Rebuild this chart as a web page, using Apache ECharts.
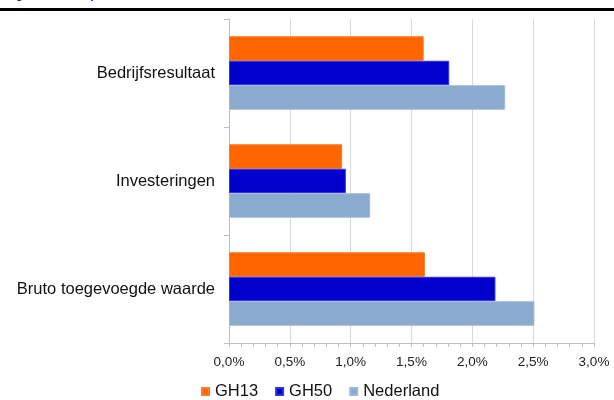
<!DOCTYPE html>
<html>
<head>
<meta charset="utf-8">
<script src="https://cdn.jsdelivr.net/npm/echarts@6/dist/echarts.min.js"></script>
<style>
  html, body { margin: 0; padding: 0; background: #fff; }
  #chart { width: 614px; height: 400px; }
</style>
</head>
<body>
<div id="chart"></div>
<script>
// Categories, bottom to top as drawn on the vertical axis
const categories = ['Bruto toegevoegde waarde', 'Investeringen', 'Bedrijfsresultaat'];
const seriesNames = ['GH13', 'GH50', 'Nederland'];
const gh13 = [1.61, 0.93, 1.60];
const gh50 = [2.19, 0.96, 1.81];
const nederland = [2.51, 1.16, 2.27];
const seriesColors = ['#ff6600', '#0000cc', '#8aabcf'];
const borderColors = ['#ff7a26', '#3333dd', '#9db9d8'];

const font = '"Liberation Sans", Arial, sans-serif';
const chart = echarts.init(document.getElementById('chart'), null, { renderer: 'canvas' });

const values = [gh13, gh50, nederland];

chart.setOption({
  animation: false,
  textStyle: { fontFamily: font },
  graphic: [
    { type: 'rect', shape: { x: 0, y: 8, width: 614, height: 3 }, style: { fill: '#000' } },
    { type: 'text', x: 5, y: -11,
      style: { text: 'Figuur 3 Groei per sector', font: 'bold 12px ' + font, fill: '#1a1aa6',
               verticalAlign: 'top' } }
  ],
  legend: {
    data: seriesNames,
    left: 201, top: 383, padding: 0,
    icon: 'rect', itemWidth: 7, itemHeight: 7, itemGap: 17,
    textStyle: { fontSize: 16.5, color: '#111', fontFamily: font, padding: [0, 0, 0, 1] }
  },
  grid: { left: 229, right: 20, top: 19, bottom: 57, containLabel: false },
  xAxis: {
    type: 'value', min: 0, max: 3, interval: 0.5,
    axisLine: { show: true, lineStyle: { color: '#bfbfbf' } },
    axisTick: { show: true, length: 4, lineStyle: { color: '#bfbfbf' } },
    minorTick: { show: true, splitNumber: 5, length: 4, lineStyle: { color: '#bfbfbf' } },
    splitLine: { show: true, lineStyle: { color: '#d9d9d9' } },
    axisLabel: {
      fontSize: 13.5, color: '#222', margin: 12, fontFamily: font,
      formatter: v => v.toFixed(1).replace('.', ',') + '%'
    }
  },
  yAxis: {
    type: 'category', data: categories,
    axisLine: { show: true, lineStyle: { color: '#bfbfbf' } },
    axisTick: { show: true, length: 5, lineStyle: { color: '#bfbfbf' } },
    axisLabel: { fontSize: 16.5, color: '#111', margin: 14, fontFamily: font }
  },
  series: values.map((vals, i) => ({
    name: seriesNames[i],
    type: 'bar',
    data: vals,
    barGap: '0%',
    barCategoryGap: '32%',
    itemStyle: { color: seriesColors[i], borderColor: borderColors[i], borderWidth: 1 }
  }))
});
</script>
</body>
</html>
